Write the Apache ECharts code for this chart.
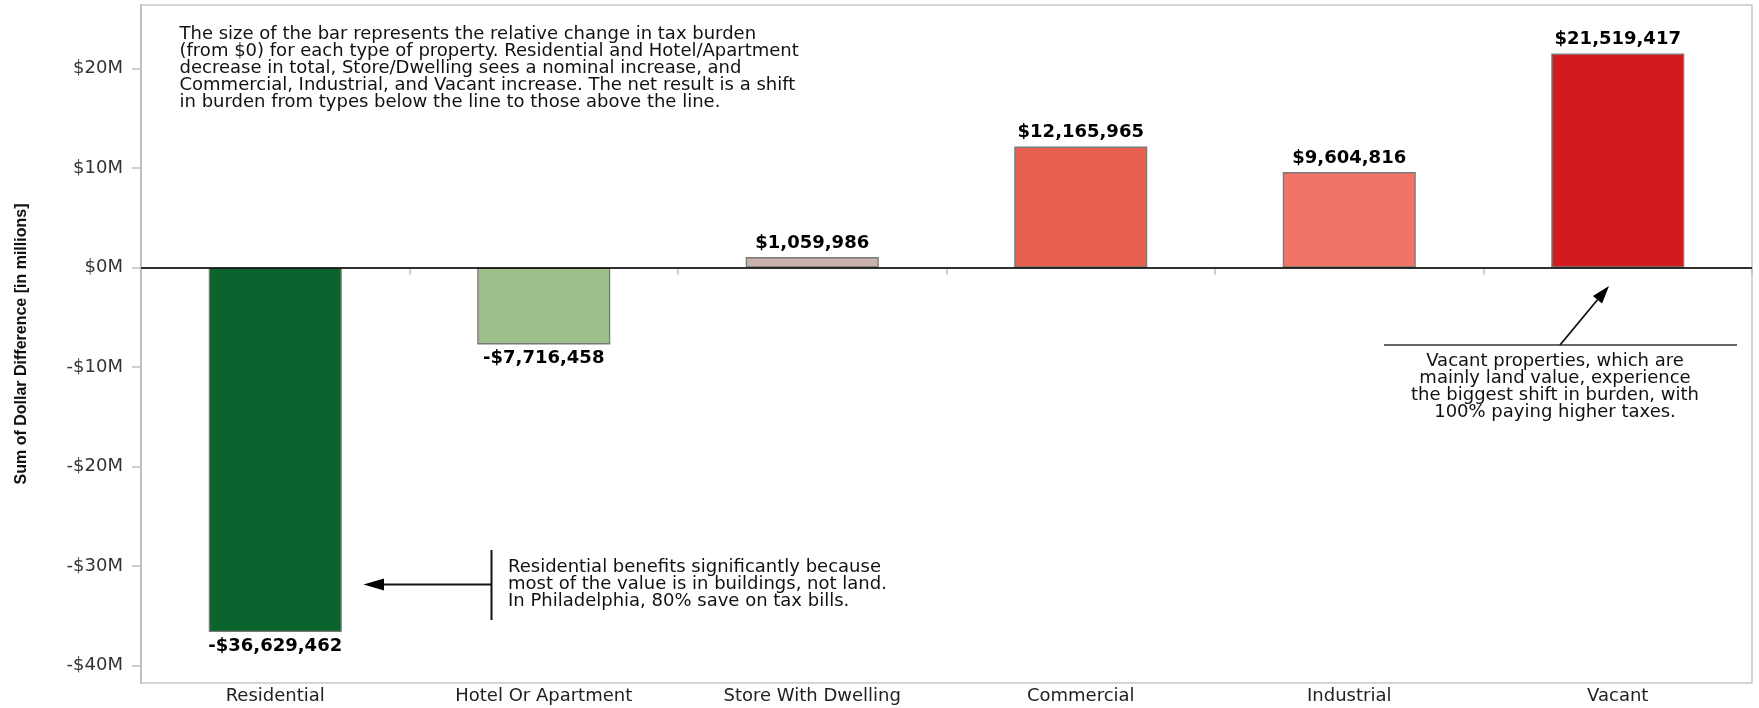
<!DOCTYPE html>
<html><head><meta charset="utf-8">
<script src="https://cdn.jsdelivr.net/npm/echarts@6/dist/echarts.min.js"></script>
<style>html,body{margin:0;padding:0;background:#fff}#c{width:1759px;height:708px}</style>
</head><body><div id="c"></div>
<script>
const categories = ['Residential', 'Hotel Or Apartment', 'Store With Dwelling', 'Commercial', 'Industrial', 'Vacant'];
const values = [-36629462, -7716458, 1059986, 12165965, 9604816, 21519417];
const barColors = ['#0b642d', '#9dbf8a', '#c9b2ac', '#e86150', '#f07567', '#d11b1f'];
const yTickValues = [-40000000, -30000000, -20000000, -10000000, 0, 10000000, 20000000];
const yTitle = 'Sum of Dollar Difference [in millions]';
const noteTop = [
  'The size of the bar represents the relative change in tax burden',
  '(from $0) for each type of property. Residential and Hotel/Apartment',
  'decrease in total, Store/Dwelling sees a nominal increase, and',
  'Commercial, Industrial, and Vacant increase. The net result is a shift',
  'in burden from types below the line to those above the line.'
];
const noteResidential = [
  'Residential benefits significantly because',
  'most of the value is in buildings, not land.',
  'In Philadelphia, 80% save on tax bills.'
];
const noteVacant = [
  'Vacant properties, which are',
  'mainly land value, experience',
  'the biggest shift in burden, with',
  '100% paying higher taxes.'
];

const FONT = '"DejaVu Sans", "Liberation Sans", sans-serif';
const fmtMoney = v => (v < 0 ? '-$' : '$') + Math.abs(v).toLocaleString('en-US');
const fmtTick = v => (v < 0 ? '-$' : '$') + Math.abs(Math.round(v / 1e6)) + 'M';

const chart = echarts.init(document.getElementById('c'), null, {renderer: 'canvas'});
chart.setOption({
  animation: false,
  backgroundColor: '#fff',
  grid: {left: 141, right: 7, top: 5, bottom: 25, show: true, borderColor: '#c8c8c8', borderWidth: 1.5},
  xAxis: {
    type: 'category', data: categories, position: 'bottom',
    axisLine: {lineStyle: {color: '#c0c0c0', width: 2}},
    axisTick: {show: true, length: 7, interval: 0, lineStyle: {color: '#c0c0c0', width: 1.5}},
    axisLabel: {interval: 0, margin: 4, color: '#222', fontFamily: FONT, fontSize: 18}
  },
  yAxis: {
    type: 'value', min: -41750000, max: 26400000, splitNumber: 7,
    name: yTitle, nameLocation: 'middle', nameRotate: 90, nameGap: 111,
    nameTextStyle: {fontFamily: '"Liberation Sans Narrow", "Liberation Sans", sans-serif', fontWeight: 'bold', fontSize: 16, color: '#111'},
    axisLine: {show: true, lineStyle: {color: '#c0c0c0', width: 2}},
    axisTick: {show: true, length: 9, customValues: yTickValues, lineStyle: {color: '#c0c0c0', width: 1.5}},
    axisLabel: {customValues: yTickValues, margin: 18, color: '#333', fontFamily: FONT, fontSize: 18, formatter: fmtTick},
    splitLine: {show: false}
  },
  series: [{
    type: 'bar', barWidth: 133,
    itemStyle: {borderColor: '#7a7a7a', borderWidth: 1.3},
    label: {show: true, distance: 5, color: '#000', fontFamily: FONT, fontWeight: 'bold', fontSize: 18,
      formatter: p => fmtMoney(p.value)},
    data: values.map((v, i) => ({
      value: v,
      itemStyle: {color: barColors[i]},
      label: {position: v < 0 ? 'bottom' : 'top'}
    })),
    markLine: {
      silent: true, symbol: ['none', 'none'], label: {show: false},
      lineStyle: {color: '#000', width: 1.5, type: 'solid'},
      data: [{yAxis: 0}]
    }
  }],
  graphic: [
    {type: 'text', x: 179.5, y: 26, silent: true,
      style: {text: noteTop.join('\n'), font: '18px ' + FONT, fill: '#111', lineHeight: 16.9, textAlign: 'left', textVerticalAlign: 'top'}},
    {type: 'text', x: 508, y: 584.5, silent: true,
      style: {text: noteResidential.join('\n'), font: '18px ' + FONT, fill: '#111', lineHeight: 16.9, textAlign: 'left', textVerticalAlign: 'middle'}},
    {type: 'text', x: 1555, y: 387, silent: true,
      style: {text: noteVacant.join('\n'), font: '18px ' + FONT, fill: '#111', lineHeight: 16.9, textAlign: 'center', textVerticalAlign: 'middle'}},
    {type: 'line', silent: true, shape: {x1: 491.5, y1: 550, x2: 491.5, y2: 620}, style: {stroke: '#111', lineWidth: 2}},
    {type: 'line', silent: true, shape: {x1: 491.5, y1: 584.5, x2: 382, y2: 584.5}, style: {stroke: '#111', lineWidth: 1.8}},
    {type: 'polygon', silent: true, shape: {points: [[363.5, 584.5], [384, 578.5], [384, 590.5]]}, style: {fill: '#000'}},
    {type: 'line', silent: true, shape: {x1: 1384, y1: 345, x2: 1737, y2: 345}, style: {stroke: '#333', lineWidth: 1.6}},
    {type: 'line', silent: true, shape: {x1: 1560, y1: 345, x2: 1597.5, y2: 299.8}, style: {stroke: '#111', lineWidth: 1.8}},
    {type: 'polygon', silent: true, shape: {points: [[1609, 286], [1602.1, 303.6], [1592.9, 296]]}, style: {fill: '#000'}}
  ]
});
</script></body></html>
